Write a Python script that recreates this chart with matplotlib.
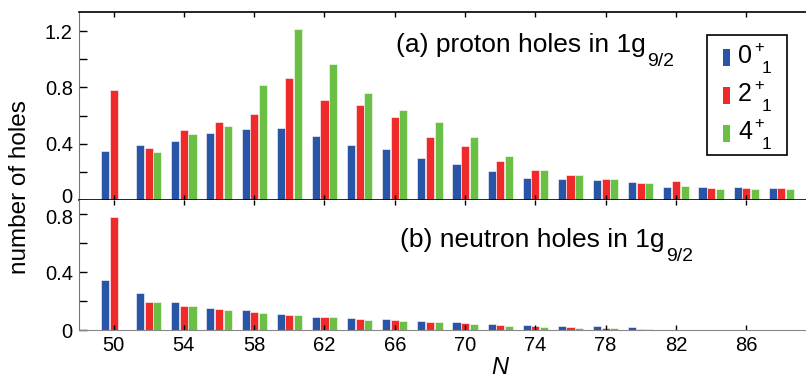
import numpy as np
import matplotlib
matplotlib.use("Agg")
import matplotlib.pyplot as plt
from matplotlib.patches import Rectangle
from matplotlib.transforms import ScaledTranslation

plt.rcParams['font.family'] = ['Liberation Sans', 'DejaVu Sans']

N = np.arange(50, 90, 2)

# (a) proton holes
prot_0 = [0.348, 0.393, 0.421, 0.478, 0.502, 0.511, 0.455, 0.393, 0.360, 0.298,
          0.256, 0.206, 0.156, 0.147, 0.140, 0.128, 0.090, 0.090, 0.090, 0.083]
prot_2 = [0.780, 0.371, 0.495, 0.552, 0.613, 0.866, 0.710, 0.675, 0.590, 0.450,
          0.384, 0.275, 0.213, 0.175, 0.151, 0.119, 0.135, 0.085, 0.085, 0.083]
prot_4 = [0.0, 0.339, 0.467, 0.523, 0.817, 1.214, 0.964, 0.760, 0.641, 0.552,
          0.450, 0.315, 0.213, 0.180, 0.151, 0.119, 0.102, 0.078, 0.078, 0.078]

# (b) neutron holes
neut_0 = [0.345, 0.255, 0.191, 0.152, 0.136, 0.110, 0.092, 0.083, 0.076, 0.064,
          0.055, 0.041, 0.032, 0.026, 0.026, 0.021, 0, 0, 0, 0]
neut_2 = [0.781, 0.191, 0.163, 0.143, 0.124, 0.103, 0.088, 0.076, 0.069, 0.055,
          0.050, 0.037, 0.026, 0.021, 0.014, 0.009, 0, 0, 0, 0]
neut_4 = [0.0, 0.191, 0.163, 0.136, 0.119, 0.103, 0.088, 0.069, 0.064, 0.055,
          0.041, 0.030, 0.021, 0.014, 0.014, 0.009, 0, 0, 0, 0]

states = ['0', '2', '4']
colors = ['#2855a5', '#ee2a2b', '#6abf45']

W, H = 806, 378
fig = plt.figure(figsize=(W / 100, H / 100), dpi=100)
ax1 = fig.add_axes([79/W, 1 - 200/H, 1 - 79/W, 188/H])
ax2 = fig.add_axes([79/W, 1 - 330/H, 1 - 79/W, 130/H])

def fx(px):
    return px / W

def fy(py):
    return 1 - py / H

off = 0.49
w = 0.46
for ax, series in [(ax1, [prot_0, prot_2, prot_4]), (ax2, [neut_0, neut_2, neut_4])]:
    for i, (vals, c) in enumerate(zip(series, colors)):
        ax.bar(N + (i - 1) * off, vals, width=w, color=c, edgecolor='white',
               linewidth=0.4)
    ax.set_xlim(48.03, 89.4)
    ax.set_xticks(np.arange(50, 88, 4))
    ax.tick_params(axis='x', direction='in', length=3.5, width=1,
                   top=True, labelsize=14.5, pad=4)
    ax.tick_params(axis='y', which='both', direction='in', length=5.8, width=1,
                   right=False, labelsize=14.5, pad=4.5)
    ax.spines['right'].set_visible(False)
    ax.spines['left'].set_color('#777777')

ax1.set_ylim(0, 1.335)
ax1.set_yticks([0, 0.4, 0.8, 1.2])
ax1.set_yticklabels(['0', '0.4', '0.8', '1.2'])
ax1.set_yticks([0.2, 0.6, 1.0], minor=True)
ax1.tick_params(axis='x', labelbottom=False)
ax1.spines['top'].set_linewidth(1.2)
ax1.spines['bottom'].set_linewidth(1.2)

ax2.set_ylim(0, 0.897)
ax2.set_yticks([0, 0.4, 0.8])
ax2.set_yticklabels(['0', '0.4', '0.8'])
ax2.set_yticks([0.2, 0.6], minor=True)
ax2.set_xticklabels([str(n) for n in range(50, 88, 4)])
ax2.spines['bottom'].set_color('#888888')
ax2.spines['top'].set_visible(False)

# the "0" of the top panel and the "0.8" of the bottom one sit very close
lab = ax1.yaxis.get_major_ticks()[0].label1
lab.set_transform(lab.get_transform() + ScaledTranslation(0, 3 / 72, fig.dpi_scale_trans))
lab = ax2.yaxis.get_major_ticks()[2].label1
lab.set_transform(lab.get_transform() + ScaledTranslation(0, -2 / 72, fig.dpi_scale_trans))

# panel titles with lowered subscript
fig.canvas.draw()
rend = fig.canvas.get_renderer()
for label, x0, base in [('(a) proton holes in 1g', 396, 52),
                        ('(b) neutron holes in 1g', 400, 247)]:
    t = fig.text(fx(x0), fy(base), label, fontsize=19, ha='left', va='baseline')
    x1 = t.get_window_extent(rend).x1
    fig.text(x1 / W + 1.5 / W, fy(base + 14), '9/2', fontsize=14, ha='left',
             va='baseline')

# legend box
fig.add_artist(Rectangle((fx(706.7), fy(155)), 80 / W, 120 / H, transform=fig.transFigure,
                         facecolor='white', edgecolor='black', linewidth=1.2))
for i, (s, c) in enumerate(zip(states, colors)):
    dy = 38 * i
    fig.add_artist(Rectangle((fx(722.7), fy(66 + dy)), 7.3 / W, 17 / H,
                             transform=fig.transFigure, facecolor=c, edgecolor='none'))
    fig.text(fx(738), fy(63 + dy), s, fontsize=18, ha='left', va='baseline')
    fig.text(fx(754), fy(52 + dy), '+', fontsize=12, ha='left', va='baseline')
    fig.text(fx(762), fy(73 + dy), '1', fontsize=12.5, ha='left', va='baseline')

fig.text(fx(20), fy(187), 'number of holes', rotation=90, fontsize=17.5,
         ha='center', va='center')
fig.text(fx(500), fy(367), 'N', fontsize=17, style='italic',
         ha='center', va='center')

fig.savefig('out.png', dpi=100)
